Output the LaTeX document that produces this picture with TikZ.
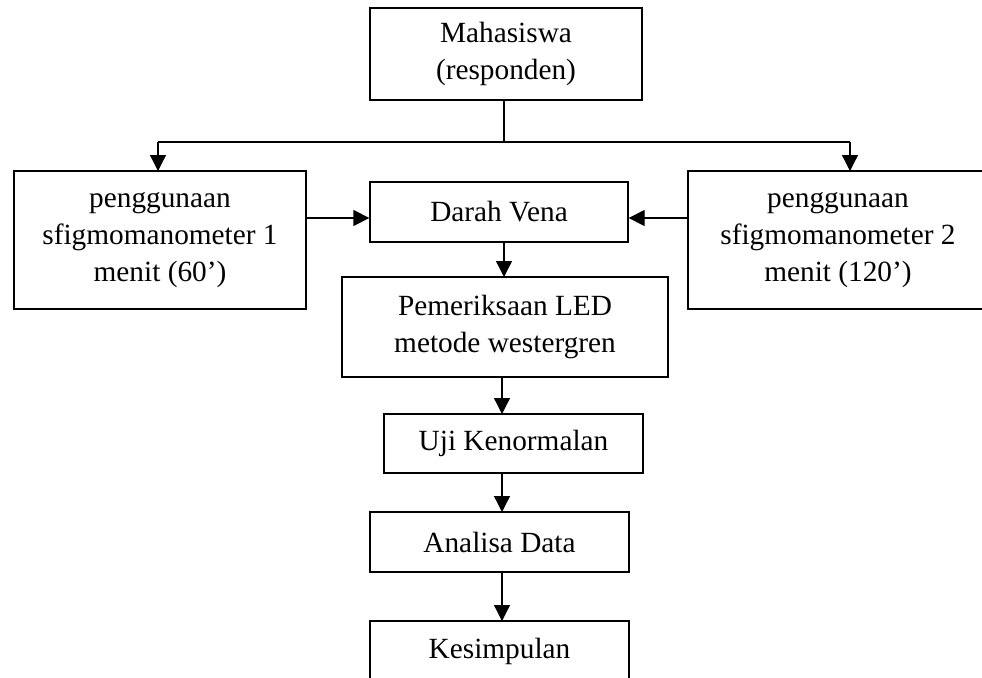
\documentclass[tikz,border=0pt]{standalone}
\usepackage{fontspec}
\setmainfont{Liberation Serif}
\usetikzlibrary{arrows.meta}
\tikzset{
  box/.style={draw, line width=1.3pt, inner sep=0pt, align=center,
    font=\fontsize{29.3}{37}\selectfont},
  conn/.style={line width=1.3pt},
  arr/.style={conn, -{Triangle[length=16pt,width=16pt]}}
}
\begin{document}
\begin{tikzpicture}[x=1pt,y=-1pt]
\useasboundingbox (0,0) rectangle (982,677);
\clip (0,0) rectangle (982,677);
\node[box, minimum width=272pt, minimum height=92pt] (mhs) at (506,54) {Mahasiswa\\(responden)};
\node[box, minimum width=292pt, minimum height=138pt] (left) at (160,240) {penggunaan\\sfigmomanometer 1\\menit (60’)};
\node[box, minimum width=300pt, minimum height=138pt] (right) at (838,240) {penggunaan\\sfigmomanometer 2\\menit (120’)};
\node[box, minimum width=258pt, minimum height=60pt] (darah) at (499,212) {Darah Vena};
\node[box, minimum width=326pt, minimum height=100pt] (led) at (505,327) {Pemeriksaan LED\\metode westergren};
\node[box, minimum width=259pt, minimum height=59pt] (uji) at (513.5,443.5) {Uji Kenormalan};
\node[box, minimum width=259pt, minimum height=60pt] (ana) at (499.5,542) {Analisa Data};
\node[box, minimum width=259pt, minimum height=60pt] (kes) at (499.5,651) {Kesimpulan};
\coordinate (split) at (504,142);
\coordinate (lsplit) at (158,142);
\coordinate (rsplit) at (850,142);
\draw[conn] (504,100) -- (split);
\draw[conn] (lsplit) -- (rsplit);
\draw[arr] (lsplit) -- (158,171);
\draw[arr] (rsplit) -- (850,171);
\draw[arr] (left.east |- 0,218) -- (darah.west |- 0,218);
\draw[arr] (right.west |- 0,218) -- (darah.east |- 0,218);
\draw[arr] (504,242) -- (504,277);
\draw[arr] (502,377) -- (502,414);
\draw[arr] (502,473) -- (502,512);
\draw[arr] (502,572) -- (502,621);
\end{tikzpicture}
\end{document}
